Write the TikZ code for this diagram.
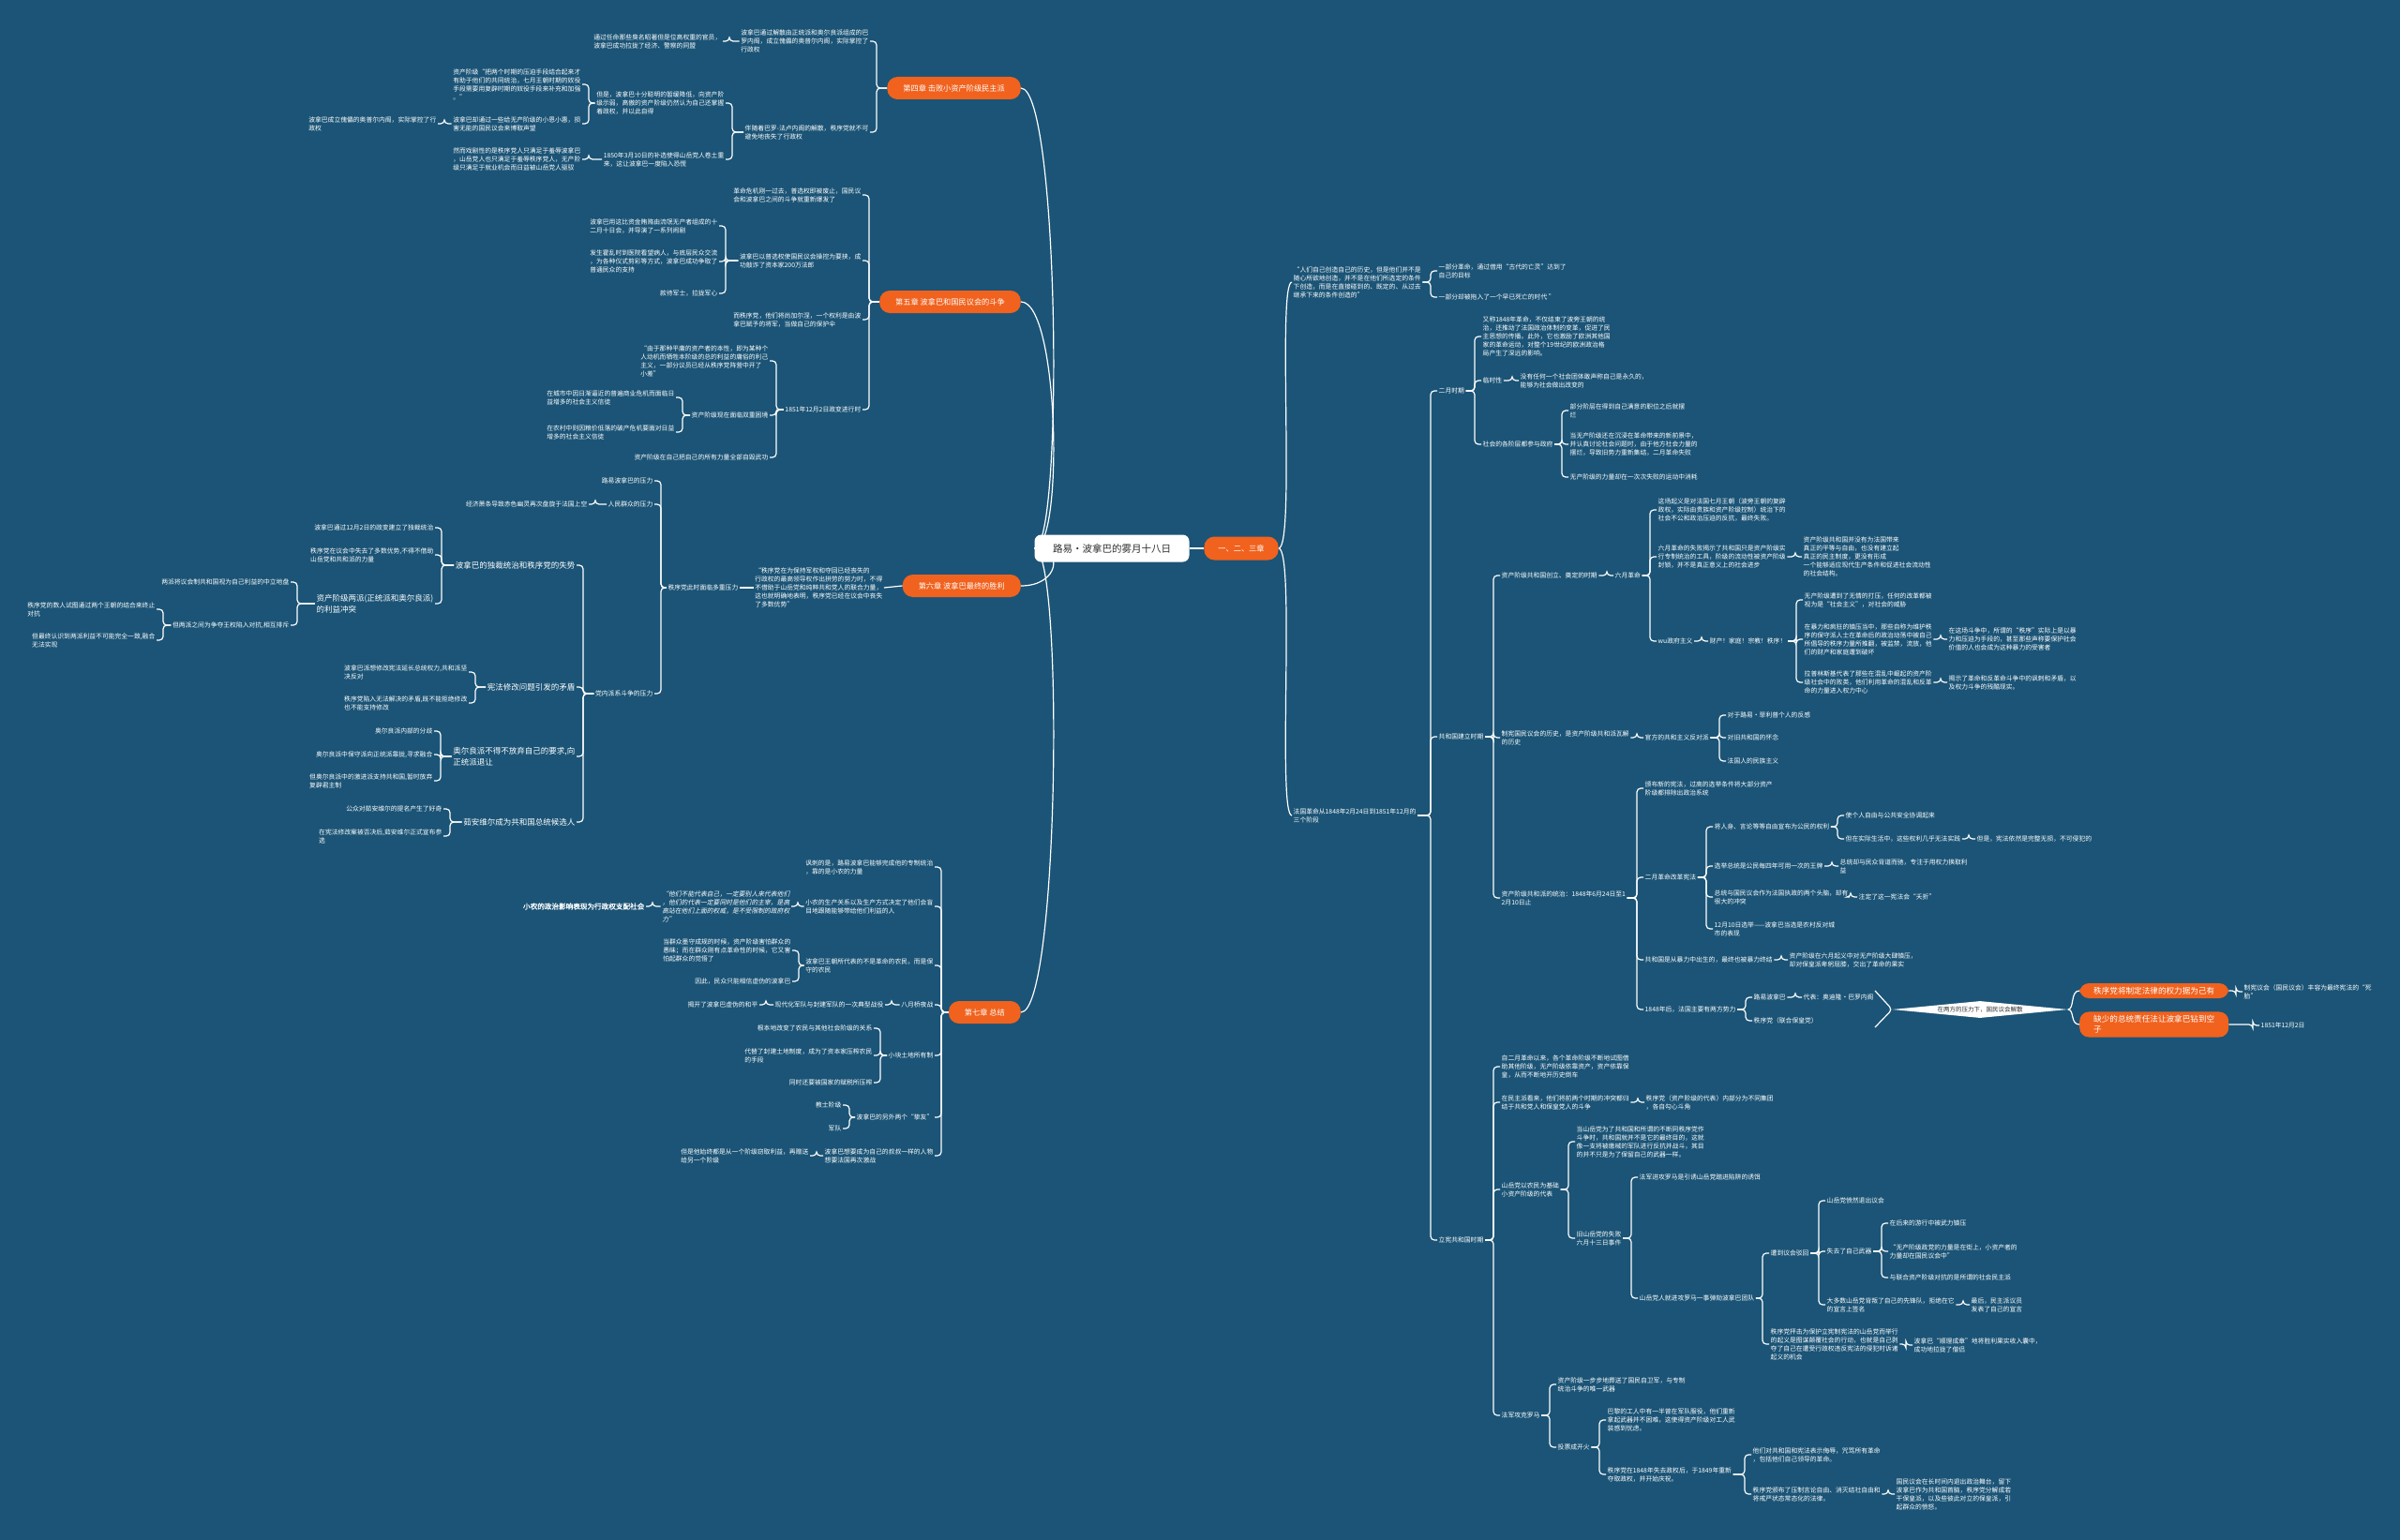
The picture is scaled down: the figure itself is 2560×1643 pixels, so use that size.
\documentclass[tikz,border=0pt]{standalone}
\usepackage{fontspec}
\setmainfont{Noto Sans CJK SC}
\newfontfamily\myit[FakeSlant=0.2]{Noto Sans CJK SC}
\newfontfamily\mybf[FakeBold=1.5]{Noto Sans CJK SC}
\usetikzlibrary{shapes.geometric}
\pgfdeclarelayer{bgz}
\pgfdeclarelayer{lines}
\pgfsetlayers{bgz,lines,main}
\definecolor{bgc}{RGB}{27,84,118}
\definecolor{org}{RGB}{240,98,30}
\definecolor{dk}{RGB}{45,45,45}
\newcommand\myfs{\fontsize{6.8}{9}\selectfont}
\newcommand\myfm{\fontsize{8.5}{11.7}\selectfont}
\newcommand\myfc{\fontsize{8.2}{10}\selectfont}
\newcommand\myfx{\fontsize{10.5}{12}\selectfont}
\newcommand\myfo{\fontsize{8.6}{11}\selectfont}
\newcommand\myfd{\fontsize{6.5}{8}\selectfont}
\newcommand\conR[2]{\draw[ln] (#1.east) -| ([xshift=-7pt]#2.west) -- (#2.west);}
\newcommand\conL[2]{\draw[ln] (#1.west) -| ([xshift=7pt]#2.east) -- (#2.east);}
\tikzset{
 ln/.style={draw=white,line width=1.2pt,rounded corners=4pt},
 cv/.style={draw=white,line width=1.2pt},
 txt/.style={text=white,font=\myfs,align=left,inner sep=1.5pt},
 txw/.style={txt,anchor=west},
 txe/.style={txt,anchor=east},
 tme/.style={txe,font=\myfm},
 chap/.style={fill=org,text=white,font=\myfc,rounded corners=11pt,minimum height=24pt,inner xsep=17pt,inner ysep=2pt},
 rootn/.style={fill=white,text=dk,font=\myfx,rounded corners=7pt,minimum height=29pt,minimum width=165pt},
 onode/.style={fill=org,text=white,font=\myfo,rounded corners=10pt,align=left,inner xsep=15pt,inner ysep=4pt,anchor=west},
}
\begin{document}
\begin{tikzpicture}[x=1pt,y=-1pt]
\begin{pgfonlayer}{bgz}
\fill[bgc] (0,0) rectangle (2560,1643);
\end{pgfonlayer}
\useasboundingbox (0,0) rectangle (2560,1643);

% ---------- centre ----------
\node[rootn] (root) at (1186,585) {路易·波拿巴的雾月十八日};
\node[chap,inner xsep=15pt,minimum height=25pt] (r0) at (1324,585) {一、二、三章};
\node[chap,anchor=east] (c4) at (1089,94) {第四章 击败小资产阶级民主派};
\node[chap,anchor=east] (c5) at (1089,322) {第五章 波拿巴和国民议会的斗争};
\node[chap,anchor=east] (c6) at (1089,625) {第六章 波拿巴最终的胜利};
\node[chap,anchor=east] (c7) at (1089,1080) {第七章 总结};

% ---------- right side ----------
\node[txw] (i1) at (1378,301) {“人们自己创造自己的历史，但是他们并不是\\随心所欲地创造，并不是在他们所选定的条件\\下创造，而是在直接碰到的、既定的、从过去\\继承下来的条件创造的”};
\node[txw] (i1a) at (1533,289) {一部分革命，通过借用“古代的亡灵”达到了\\自己的目标};
\node[txw] (i1b) at (1533,317) {一部分却被拖入了一个早已死亡的时代 ”};
\node[txw] (i2) at (1378,870) {法国革命从1848年2月24日到1851年12月的\\三个阶段};
\node[txw] (p1) at (1533,417) {二月时期};
\node[txw] (p2) at (1533,786) {共和国建立时期};
\node[txw] (p3) at (1533,1323) {立宪共和国时期};

\node[txw] (a1) at (1580,359) {又称1848年革命，不仅结束了波旁王朝的统\\治，还推动了法国政治体制的变革，促进了民\\主思想的传播。此外，它也激励了欧洲其他国\\家的革命运动，对整个19世纪的欧洲政治格\\局产生了深远的影响。};
\node[txw] (a2) at (1580,406) {临时性};
\node[txw] (a2x) at (1620,406) {没有任何一个社会团体敢声称自己是永久的，\\能够为社会做出改变的};
\node[txw] (a3) at (1580,474) {社会的各阶层都参与政府};
\node[txw] (a3a) at (1673,438) {部分阶层在得到自己满意的职位之后就摆\\烂};
\node[txw] (a3b) at (1673,474) {当无产阶级还在沉浸在革命带来的新前景中，\\并认真讨论社会问题时，由于他方社会力量的\\摆烂，导致旧势力重新集结，二月革命失败};
\node[txw] (a3c) at (1673,509) {无产阶级的力量却在一次次失败的运动中消耗};

\node[txw] (b1) at (1600,614) {资产阶级共和国创立、奠定的时期};
\node[txw] (b1x) at (1721,614) {六月革命};
\node[txw] (b1a) at (1767,544) {这场起义是对法国七月王朝（波旁王朝的复辟\\政权，实际由贵族和资产阶级控制）统治下的\\社会不公和政治压迫的反抗，最终失败。};
\node[txw] (b1b) at (1767,594) {六月革命的失败揭示了共和国只是资产阶级实\\行专制统治的工具，阶级的流动性被资产阶级\\封锁，并不是真正意义上的社会进步};
\node[txw] (b1bx) at (1922,594) {资产阶级共和国并没有为法国带来\\真正的平等与自由，也没有建立起\\真正的民主制度，更没有形成\\一个能够适应现代生产条件和促进社会流动性\\的社会结构。};
\node[txw] (b1c) at (1767,684) {wu政府主义};
\node[txw] (b1cx) at (1822,684) {财产！家庭！宗教！秩序！};
\node[txw] (c1) at (1923,640) {无产阶级遭到了无情的打压，任何的改革都被\\视为是“社会主义”，对社会的威胁};
\node[txw] (c2) at (1923,682) {在暴力和疯狂的镇压当中，那些自称为维护秩\\序的保守派人士在革命后的政治动荡中被自己\\所倡导的秩序力量所推翻，被监禁，流放，他\\们的财产和家庭遭到破坏};
\node[txw] (c2x) at (2077,682) {在这场斗争中，所谓的“秩序”实际上是以暴\\力和压迫为手段的，甚至那些声称要保护社会\\价值的人也会成为这种暴力的受害者};
\node[txw] (c3) at (1923,728) {拉普林斯基代表了那些在混乱中崛起的资产阶\\级社会中的败类，他们利用革命的混乱和反革\\命的力量进入权力中心};
\node[txw] (c3x) at (2077,728) {揭示了革命和反革命斗争中的讽刺和矛盾，以\\及权力斗争的残酷现实。};

\node[txw] (b2) at (1600,787) {制宪国民议会的历史，是资产阶级共和派瓦解\\的历史};
\node[txw] (b2x) at (1753,787) {官方的共和主义反对派};
\node[txw] (b2a) at (1841,763) {对于路易·菲利普个人的反感};
\node[txw] (b2b) at (1841,787) {对旧共和国的怀念};
\node[txw] (b2c) at (1841,812) {法国人的民族主义};

\node[txw] (b3) at (1600,958) {资产阶级共和派的统治：1848年6月24日至1\\2月10日止};
\node[txw] (d1) at (1753,841) {颁布新的宪法，过高的选举条件将大部分资产\\阶级都排除出政治系统};
\node[txw] (d2) at (1753,936) {二月革命改革宪法};
\node[txw] (e1) at (1827,882) {将人身、言论等等自由宣布为公民的权利};
\node[txw] (e1a) at (1967,870) {使个人自由与公共安全协调起来};
\node[txw] (e1b) at (1967,895) {但在实际生活中，这些权利几乎无法实践};
\node[txw] (e1c) at (2107,895) {但是，宪法依然是完整无损，不可侵犯的};
\node[txw] (e2) at (1827,924) {选举总统是公民每四年可用一次的王牌};
\node[txw] (e2x) at (1961,924) {总统却与民众背道而驰，专注于用权力换取利\\益};
\node[txw] (e3) at (1827,957) {总统与国民议会作为法国执政的两个头脑，却有\\很大的冲突};
\node[txw] (e3x) at (1981,957) {注定了这一宪法会“夭折”};
\node[txw] (e4) at (1827,991) {12月10日选举——波拿巴当选是农村反对城\\市的表现};
\node[txw] (d3) at (1753,1024) {共和国是从暴力中出生的，最终也被暴力终结};
\node[txw] (d3x) at (1907,1024) {资产阶级在六月起义中对无产阶级大肆镇压，\\却对保皇派卑躬屈膝，交出了革命的果实};
\node[txw] (d4) at (1753,1077) {1848年后，法国主要有两方势力};
\node[txw] (f1) at (1869,1064) {路易波拿巴};
\node[txw] (f1x) at (1922,1064) {代表：奥迪隆·巴罗内阁};
\node[txw] (f2) at (1869,1089) {秩序党（联合保皇党）};
\node[diamond,fill=white,text=dk,font=\myfd,aspect=10.4,inner sep=0pt,minimum width=187pt,minimum height=18pt] (dia) at (2112,1077) {在两方的压力下，国民议会解散};
\coordinate (gt1) at (2000,1057);
\coordinate (gt2) at (2000,1096);
\node[onode] (o1) at (2218,1057) {秩序党将制定法律的权力据为己有};
\node[onode] (o2) at (2218,1093) {缺少的总统责任法让波拿巴钻到空\\子};
\node[txw] (o1x) at (2392,1058) {制宪议会（国民议会）丰容为最终宪法的“死\\胎”};
\node[txw] (o2x) at (2410,1094) {1851年12月2日};

\node[txw] (g1) at (1600,1138) {自二月革命以来，各个革命阶级不断地试图借\\助其他阶级，无产阶级依靠资产，资产依靠保\\皇，从而不断地开历史倒车};
\node[txw] (g2) at (1600,1176) {在民主派看来，他们将前两个时期的冲突都归\\结于共和党人和保皇党人的斗争};
\node[txw] (g2x) at (1754,1176) {秩序党（资产阶级的代表）内部分为不同集团\\，各自勾心斗角};
\node[txw] (g3) at (1600,1269) {山岳党以农民为基础\\小资产阶级的代表};
\node[txw] (h1) at (1680,1218) {当山岳党为了共和国和所谓的不断同秩序党作\\斗争时，共和国就并不是它的最终目的，这就\\像一支将被缴械的军队进行反抗并战斗，其目\\的并不只是为了保留自己的武器一样。};
\node[txw] (h2) at (1680,1321) {旧山岳党的失败\\六月十三日事件};
\node[txw] (k1) at (1747,1256) {法军进攻罗马是引诱山岳党踏进陷阱的诱饵};
\node[txw] (k2) at (1747,1385) {山岳党人就进攻罗马一事弹劾波拿巴团队};
\node[txw] (m1) at (1887,1337) {遭到议会驳回};
\node[txw] (n1) at (1947,1281) {山岳党愤然退出议会};
\node[txw] (n2) at (1947,1335) {失去了自己武器};
\node[txw] (q1) at (2014,1305) {在后来的游行中被武力镇压};
\node[txw] (q2) at (2014,1335) {“无产阶级政党的力量是在街上，小资产者的\\力量却在国民议会中”};
\node[txw] (q3) at (2014,1363) {与联合资产阶级对抗的是所谓的社会民主派};
\node[txw] (n3) at (1947,1392) {大多数山岳党背叛了自己的先锋队，拒绝在它\\的宣言上签名};
\node[txw] (n3x) at (2101,1392) {最后，民主派议员\\发表了自己的宣言};
\node[txw] (m2) at (1887,1434) {秩序党抨击为保护立宪制宪法的山岳党而举行\\的起义是图谋颠覆社会的行动，也就是自己剥\\夺了自己在遭受行政权违反宪法的侵犯时诉诸\\起义的机会};
\node[txw] (m2x) at (2040,1435) {波拿巴“顺理成章”地将胜利果实收入囊中，\\成功地拉拢了僧侣};
\node[txw] (g4) at (1600,1510) {法军攻克罗马};
\node[txw] (s1) at (1660,1477) {资产阶级一步步地葬送了国民自卫军，与专制\\统治斗争的唯一武器};
\node[txw] (s2) at (1660,1544) {投票成开火};
\node[txw] (u1) at (1713,1515) {巴黎的工人中有一半曾在军队服役，他们重新\\拿起武器并不困难，这使得资产阶级对工人武\\装感到忧虑。};
\node[txw] (u2) at (1713,1573) {秩序党在1848年失去政权后，于1849年重新\\夺取政权，并开始庆祝。};
\node[txw] (w1) at (1868,1552) {他们对共和国和宪法表示侮辱，咒骂所有革命\\，包括他们自己领导的革命。};
\node[txw] (w2) at (1868,1594) {秩序党颁布了压制言论自由、消灭结社自由和\\将戒严状态常态化的法律。};
\node[txw] (w2x) at (2021,1594) {国民议会在长时间内退出政治舞台，留下\\波拿巴作为共和国首脑，秩序党分解成若\\干保皇派，以及些彼此对立的保皇派，引\\起群众的愤怒。};

% ---------- chapter 4 ----------
\node[txe] (A1) at (928,44) {波拿巴通过解散由正统派和奥尔良派组成的巴\\罗内阁，成立傀儡的奥普尔内阁，实际掌控了\\行政权};
\node[txe] (A1x) at (771,44) {通过任命那些臭名昭著但是位高权重的官员，\\波拿巴成功拉拢了经济、警察的同盟};
\node[txe] (A2) at (928,141) {伴随着巴罗-法卢内阁的解散，秩序党就不可\\避免地丧失了行政权};
\node[txe] (A2a) at (774,110) {但是，波拿巴十分聪明的暂缓降低，向资产阶\\级示弱，高傲的资产阶级仍然认为自己还掌握\\着政权，并以此自得};
\node[txe] (A2a1) at (621,90) {资产阶级“把两个时期的压迫手段结合起来才\\有助于他们的共同统治，七月王朝时期的奴役\\手段需要用复辟时期的奴役手段来补充和加强\\。”};
\node[txe] (A2a2) at (621,132) {波拿巴却通过一些给无产阶级的小恩小惠，损\\害无能的国民议会来博取声望};
\node[txe] (A2a2x) at (467,132) {波拿巴成立傀儡的奥普尔内阁，实际掌控了行\\政权};
\node[txe] (A2b) at (774,170) {1850年3月10日的补选使得山岳党人卷土重\\来，这让波拿巴一度陷入恐慌};
\node[txe] (A2bx) at (621,170) {然而戏剧性的是秩序党人只满足于羞辱波拿巴\\，山岳党人也只满足于羞辱秩序党人，无产阶\\级只满足于就业机会而日益被山岳党人驱驭};

% ---------- chapter 5 ----------
\node[txe] (B1) at (920,208) {革命危机刚一过去，普选权即被废止，国民议\\会和波拿巴之间的斗争就重新爆发了};
\node[txe] (B2) at (920,278) {波拿巴以普选权使国民议会操控为要挟，成\\功敲诈了资本家200万法郎};
\node[txe] (B2a) at (767,241) {波拿巴用这比资金贿赂由流氓无产者组成的十\\二月十日会，并导演了一系列闹剧};
\node[txe] (B2b) at (767,279) {发生霍乱时到医院看望病人，与底层民众交流\\，为各种仪式剪彩等方式，波拿巴成功争取了\\普通民众的支持};
\node[txe] (B2c) at (767,313) {款待军士，拉拢军心};
\node[txe] (B3) at (920,341) {而秩序党，他们将尚加尔涅，一个权利是由波\\拿巴赋予的将军，当做自己的保护伞};
\node[txe] (B4) at (920,437) {1851年12月2日政变进行时};
\node[txe] (B4a) at (821,385) {“由于那种平庸的资产者的本性，即为某种个\\人动机而牺牲本阶级的总的利益的庸俗的利己\\主义，一部分议员已经从秩序党阵营中开了\\小差”};
\node[txe] (B4b) at (821,443) {资产阶级现在面临双重困境};
\node[txe] (B4b1) at (721,424) {在城市中因日渐逼近的普遍商业危机而面临日\\益增多的社会主义信徒};
\node[txe] (B4b2) at (721,461) {在农村中则因粮价低落的破产危机要面对日益\\增多的社会主义信徒};
\node[txe] (B4c) at (821,488) {资产阶级在自己把自己的所有力量全部自毁武功};

% ---------- chapter 6 ----------
\node[txe] (D0) at (943,627) {“秩序党在为保持军权和夺回已经丧失的\\行政权的最高领导权作出拼劳的努力时，不得\\不借助于山岳党和纯粹共和党人的联合力量，\\这也就明确地表明，秩序党已经在议会中丧失\\了多数优势”};
\node[txe] (D1) at (789,627) {秩序党此时面临多重压力};
\node[txe] (D1a) at (698,513) {路易波拿巴的压力};
\node[txe] (D1b) at (698,538) {人民群众的压力};
\node[txe] (D1bx) at (628,538) {经济萧条导致赤色幽灵再次盘旋于法国上空};
\node[txe] (D1c) at (698,740) {党内派系斗争的压力};
\node[tme] (E1) at (615,603) {波拿巴的独裁统治和秩序党的失势};
\node[tme] (E2) at (615,733) {宪法修改问题引发的矛盾};
\node[tme] (E3) at (615,807) {奥尔良派不得不放弃自己的要求,向\\正统派退让};
\node[tme] (E4) at (615,877) {茹安维尔成为共和国总统候选人};
\node[txe] (E1a) at (464,563) {波拿巴通过12月2日的政变建立了独裁统治};
\node[txe] (E1b) at (464,592) {秩序党在议会中失去了多数优势,不得不借助\\山岳党和共和派的力量};
\node[tme] (E1c) at (464,644) {资产阶级两派(正统派和奥尔良派)\\的利益冲突};
\node[txe] (E1c1) at (310,621) {两派将议会制共和国视为自己利益的中立地盘};
\node[txe] (E1c2) at (310,667) {但两派之间为争夺王权陷入对抗,相互排斥};
\node[txe] (E1c2a) at (167,650) {秩序党的数人试图通过两个王朝的结合来终止\\对抗};
\node[txe] (E1c2b) at (167,683) {但最终认识到两派利益不可能完全一致,融合\\无法实现};
\node[txe] (E2a) at (500,717) {波拿巴派想修改宪法延长总统权力,共和派坚\\决反对};
\node[txe] (E2b) at (500,750) {秩序党陷入无法解决的矛盾,既不能拒绝修改\\也不能支持修改};
\node[txe] (E3a) at (463,780) {奥尔良派内部的分歧};
\node[txe] (E3b) at (463,805) {奥尔良派中保守派向正统派靠拢,寻求融合};
\node[txe] (E3c) at (463,833) {但奥尔良派中的激进派支持共和国,暂时放弃\\复辟君主制};
\node[txe] (E4a) at (473,863) {公众对茹安维尔的提名产生了好奇};
\node[txe] (E4b) at (473,892) {在宪法修改案被否决后,茹安维尔正式宣布参\\选};

% ---------- chapter 7 ----------
\node[txe] (G1) at (997,925) {讽刺的是，路易波拿巴能够完成他的专制统治\\，靠的是小农的力量};
\node[txe] (G2) at (997,967) {小农的生产关系以及生产方式决定了他们会盲\\目地跟随能够带给他们利益的人};
\node[txe,font=\myfs\myit] (G2x) at (844,967) {“他们不能代表自己，一定要别人来代表他们\\，他们的代表一定要同时是他们的主宰，是高\\高站在他们上面的权威，是不受限制的政府权\\力”};
\node[txe,font=\fontsize{7.6}{9}\selectfont\mybf] (G2xx) at (689,967) {小农的政治影响表现为行政权支配社会};
\node[txe] (G3) at (997,1030) {波拿巴王朝所代表的不是革命的农民，而是保\\守的农民};
\node[txe] (G3a) at (845,1014) {当群众墨守成规的时候，资产阶级害怕群众的\\愚昧；而在群众刚有点革命性的时候，它又害\\怕起群众的觉悟了};
\node[txe] (G3b) at (845,1047) {因此，民众只能相信虚伪的波拿巴};
\node[txe] (G4) at (997,1072) {八月桥夜战};
\node[txe] (G4x) at (944,1072) {现代化军队与封建军队的一次典型战役};
\node[txe] (G4xx) at (810,1072) {揭开了波拿巴虚伪的和平};
\node[txe] (G5) at (997,1126) {小块土地所有制};
\node[txe] (G5a) at (932,1097) {根本地改变了农民与其他社会阶级的关系};
\node[txe] (G5b) at (932,1126) {代替了封建土地制度，成为了资本家压榨农民\\的手段};
\node[txe] (G5c) at (932,1155) {同时还要被国家的赋税所压榨};
\node[txe] (G6) at (997,1192) {波拿巴的另外两个“挚友”};
\node[txe] (G6a) at (899,1179) {教士阶级};
\node[txe] (G6b) at (899,1204) {军队};
\node[txe] (G7) at (997,1233) {波拿巴想要成为自己的叔叔一样的人物\\想要法国再次激战};
\node[txe] (G7x) at (864,1233) {但是他始终都是从一个阶级窃取利益，再赠送\\给另一个阶级};

% ---------- main curves ----------
\begin{pgfonlayer}{lines}
\draw[cv] (root.west) .. controls (1135,585) and (1130,94) .. (c4.east);
\draw[cv] (root.west) .. controls (1135,585) and (1130,322) .. (c5.east);
\draw[cv] (root.west) .. controls (1135,585) and (1130,625) .. (c6.east);
\draw[cv] (root.west) .. controls (1135,585) and (1130,1080) .. (c7.east);
\draw[cv] (root.east) -- (r0.west);
\draw[cv] (r0.east) .. controls (1382,585) and (1362,301) .. (i1.west);
\draw[cv] (r0.east) .. controls (1382,585) and (1362,870) .. (i2.west);
\end{pgfonlayer}

% ---------- connectors right ----------
\conR{i1}{i1a} \conR{i1}{i1b}
\conR{i2}{p1} \conR{i2}{p2} \conR{i2}{p3}
\conR{p1}{a1} \conR{p1}{a2} \conR{p1}{a3}
\conR{a2}{a2x}
\conR{a3}{a3a} \conR{a3}{a3b} \conR{a3}{a3c}
\conR{p2}{b1} \conR{p2}{b2} \conR{p2}{b3}
\conR{b1}{b1x}
\conR{b1x}{b1a} \conR{b1x}{b1b} \conR{b1x}{b1c}
\conR{b1b}{b1bx}
\conR{b1c}{b1cx}
\conR{b1cx}{c1} \conR{b1cx}{c2} \conR{b1cx}{c3}
\conR{c2}{c2x} \conR{c3}{c3x}
\conR{b2}{b2x}
\conR{b2x}{b2a} \conR{b2x}{b2b} \conR{b2x}{b2c}
\conR{b3}{d1} \conR{b3}{d2} \conR{b3}{d3} \conR{b3}{d4}
\conR{d2}{e1} \conR{d2}{e2} \conR{d2}{e3} \conR{d2}{e4}
\conR{e1}{e1a} \conR{e1}{e1b} \conR{e1b}{e1c}
\conR{e2}{e2x} \conR{e3}{e3x}
\conR{d3}{d3x}
\conR{d4}{f1} \conR{d4}{f2} \conR{f1}{f1x}
\draw[ln] (gt1) -- (dia.west) -- (gt2);
\draw[cv] (dia.east) .. controls (2213,1077) and (2208,1057) .. (o1.west);
\draw[cv] (dia.east) .. controls (2213,1077) and (2208,1093) .. (o2.west);
\conR{o1}{o1x} \conR{o2}{o2x}
\conR{p3}{g1} \conR{p3}{g2} \conR{p3}{g3} \conR{p3}{g4}
\conR{g2}{g2x}
\conR{g3}{h1} \conR{g3}{h2}
\conR{h2}{k1} \conR{h2}{k2}
\conR{k2}{m1} \conR{k2}{m2}
\conR{m1}{n1} \conR{m1}{n2} \conR{m1}{n3}
\conR{n2}{q1} \conR{n2}{q2} \conR{n2}{q3}
\conR{n3}{n3x} \conR{m2}{m2x}
\conR{g4}{s1} \conR{g4}{s2}
\conR{s2}{u1} \conR{s2}{u2}
\conR{u2}{w1} \conR{u2}{w2} \conR{w2}{w2x}

% ---------- connectors left ----------
\conL{c4}{A1} \conL{c4}{A2} \conL{A1}{A1x}
\conL{A2}{A2a} \conL{A2}{A2b}
\conL{A2a}{A2a1} \conL{A2a}{A2a2} \conL{A2a2}{A2a2x} \conL{A2b}{A2bx}
\conL{c5}{B1} \conL{c5}{B2} \conL{c5}{B3} \conL{c5}{B4}
\conL{B2}{B2a} \conL{B2}{B2b} \conL{B2}{B2c}
\conL{B4}{B4a} \conL{B4}{B4b} \conL{B4}{B4c}
\conL{B4b}{B4b1} \conL{B4b}{B4b2}
\draw[ln] (c6.west) -- (D0.east);
\draw[ln] (D0.west) -- (D1.east);
\conL{D1}{D1a} \conL{D1}{D1b} \conL{D1}{D1c} \conL{D1b}{D1bx}
\conL{D1c}{E1} \conL{D1c}{E2} \conL{D1c}{E3} \conL{D1c}{E4}
\conL{E1}{E1a} \conL{E1}{E1b} \conL{E1}{E1c}
\conL{E1c}{E1c1} \conL{E1c}{E1c2}
\conL{E1c2}{E1c2a} \conL{E1c2}{E1c2b}
\conL{E2}{E2a} \conL{E2}{E2b}
\conL{E3}{E3a} \conL{E3}{E3b} \conL{E3}{E3c}
\conL{E4}{E4a} \conL{E4}{E4b}
\conL{c7}{G1} \conL{c7}{G2} \conL{c7}{G3} \conL{c7}{G4} \conL{c7}{G5} \conL{c7}{G6} \conL{c7}{G7}
\conL{G2}{G2x} \conL{G2x}{G2xx}
\conL{G3}{G3a} \conL{G3}{G3b}
\conL{G4}{G4x} \conL{G4x}{G4xx}
\conL{G5}{G5a} \conL{G5}{G5b} \conL{G5}{G5c}
\conL{G6}{G6a} \conL{G6}{G6b}
\conL{G7}{G7x}
\end{tikzpicture}
\end{document}
